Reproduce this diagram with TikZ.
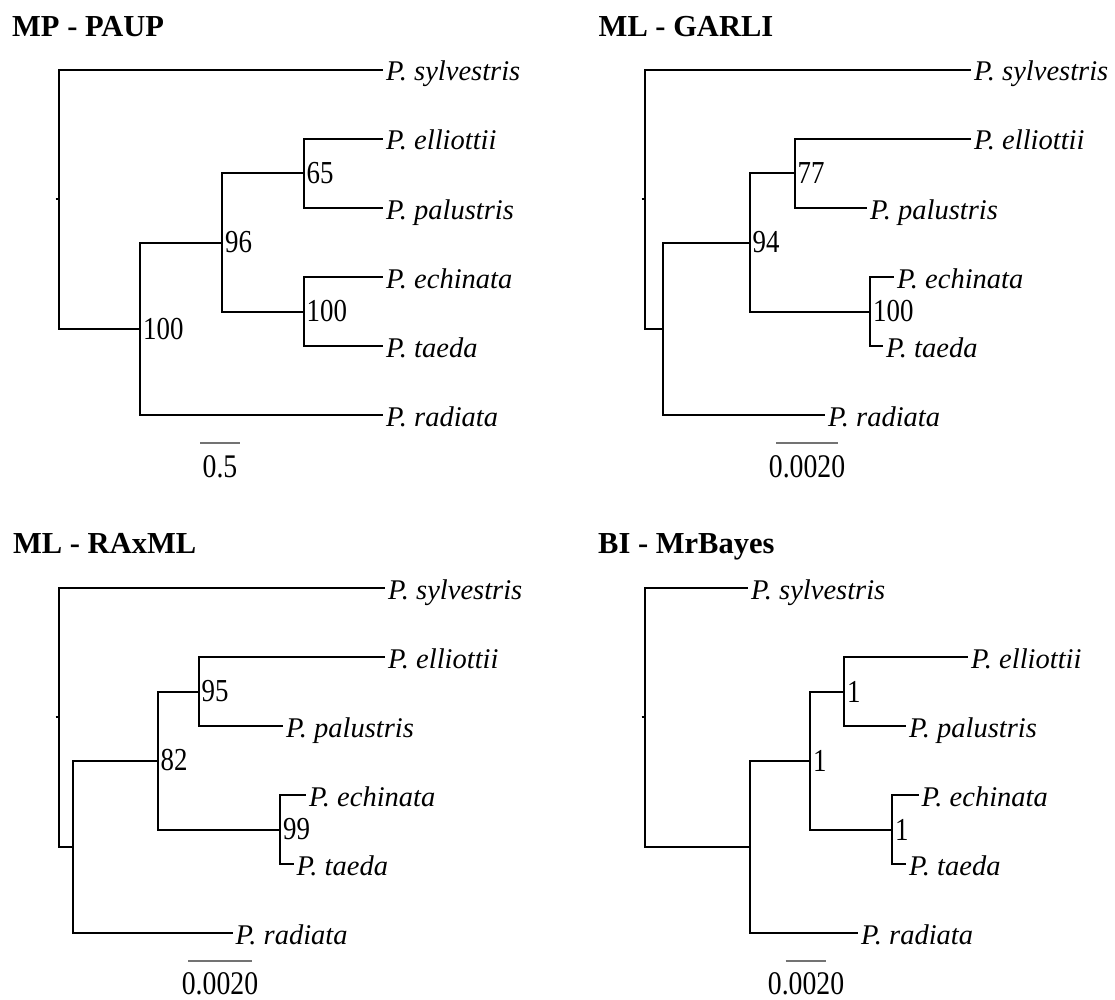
\documentclass[tikz,border=0pt]{standalone}
\usepackage{fontspec}
\setmainfont{Liberation Serif}
\newfontfamily\numfont{Liberation Serif}[FakeStretch=0.84]
\usepackage{tikz}
\usetikzlibrary{positioning}
\tikzstyle{branch} = [line width=2pt]
\tikzstyle{scalebar} = [line width=1.3pt, draw=black!55]

\begin{document}
\begin{tikzpicture}[x=1pt, y=-1pt]
\tikzset{%
	taxon/.style = {anchor=west, inner sep=0pt, inner xsep=3pt, text height=22pt, text depth=0pt, font=\fontsize{28.5}{34}\selectfont\itshape},
	supp/.style = {anchor=west, inner sep=0pt, inner xsep=3pt, font=\numfont\fontsize{32}{38}\selectfont},
	title/.style = {anchor=base west, inner sep=0pt, font=\fontsize{30.5}{36}\selectfont\bfseries},
	sclab/.style = {anchor=base, inner sep=0pt, font=\numfont\fontsize{33}{38}\selectfont}
}
\useasboundingbox (0,0) rectangle (1115,1000);

% MP - PAUP
\node(mph) [title] at (12,37) {MP - PAUP};
\coordinate(mp0) at (59,199.5);
\coordinate(mpt) at (55.5,199.5);
\coordinate(mp1) at (140,329);
\coordinate(mp2) at (222,242.5);
\coordinate(mp3) at (303.5,173.5);
\coordinate(mp4) at (303.5,311.5);
\node(mpsyl) [taxon] at (383,70) {P. sylvestris};
\node(mpell) [taxon] at (383,139) {P. elliottii};
\node(mppal) [taxon] at (383,208) {P. palustris};
\node(mpech) [taxon] at (383,277) {P. echinata};
\node(mptae) [taxon] at (383,346) {P. taeda};
\node(mprad) [taxon] at (383,415) {P. radiata};
\node(mp1l) [supp] at (mp1) {100};
\node(mp2l) [supp] at (mp2) {96};
\node(mp3l) [supp] at (mp3) {65};
\node(mp4l) [supp] at (mp4) {100};
\draw[branch] (mpt) -- (mp0);
\draw[branch] (mp0) |- (mpsyl.west);
\draw[branch] (mp0) |- (mp1);
\draw[branch] (mp1) |- (mp2);
\draw[branch] (mp1) |- (mprad.west);
\draw[branch] (mp2) |- (mp3);
\draw[branch] (mp2) |- (mp4);
\draw[branch] (mp3) |- (mpell.west);
\draw[branch] (mp3) |- (mppal.west);
\draw[branch] (mp4) |- (mpech.west);
\draw[branch] (mp4) |- (mptae.west);
\coordinate(mpb1) at (200,443);
\coordinate(mpb2) at (240,443);
\draw[scalebar] (mpb1) -- (mpb2);
\node(mpsc) [sclab] at (220,477) {0.5};

% ML - GARLI
\node(gah) [title] at (598.5,37) {ML - GARLI};
\coordinate(ga0) at (645,199.5);
\coordinate(gat) at (641.5,199.5);
\coordinate(ga1) at (663,329);
\coordinate(ga2) at (749.5,242.5);
\coordinate(ga3) at (794.5,173.5);
\coordinate(ga4) at (870,311.5);
\node(gasyl) [taxon] at (971,70) {P. sylvestris};
\node(gaell) [taxon] at (971,139) {P. elliottii};
\node(gapal) [taxon] at (867,208) {P. palustris};
\node(gaech) [taxon] at (894,277) {P. echinata};
\node(gatae) [taxon] at (883,346) {P. taeda};
\node(garad) [taxon] at (825,415) {P. radiata};
\node(ga2l) [supp] at (ga2) {94};
\node(ga3l) [supp] at (ga3) {77};
\node(ga4l) [supp] at (ga4) {100};
\draw[branch] (gat) -- (ga0);
\draw[branch] (ga0) |- (gasyl.west);
\draw[branch] (ga0) |- (ga1);
\draw[branch] (ga1) |- (ga2);
\draw[branch] (ga1) |- (garad.west);
\draw[branch] (ga2) |- (ga3);
\draw[branch] (ga2) |- (ga4);
\draw[branch] (ga3) |- (gaell.west);
\draw[branch] (ga3) |- (gapal.west);
\draw[branch] (ga4) |- (gaech.west);
\draw[branch] (ga4) |- (gatae.west);
\coordinate(gab1) at (776,443);
\coordinate(gab2) at (838,443);
\draw[scalebar] (gab1) -- (gab2);
\node(gasc) [sclab] at (807,477) {0.0020};

% ML - RAxML
\node(rxh) [title] at (13,553) {ML - RAxML};
\coordinate(rx0) at (59,717.4);
\coordinate(rxt) at (55.5,717.4);
\coordinate(rx1) at (73,846.75);
\coordinate(rx2) at (157.5,760.5);
\coordinate(rx3) at (198.5,691.5);
\coordinate(rx4) at (280,829.5);
\node(rxsyl) [taxon] at (385,588) {P. sylvestris};
\node(rxell) [taxon] at (385,657) {P. elliottii};
\node(rxpal) [taxon] at (283,726) {P. palustris};
\node(rxech) [taxon] at (306,795) {P. echinata};
\node(rxtae) [taxon] at (293.5,864) {P. taeda};
\node(rxrad) [taxon] at (232.5,933) {P. radiata};
\node(rx2l) [supp] at (rx2) {82};
\node(rx3l) [supp] at (rx3) {95};
\node(rx4l) [supp] at (rx4) {99};
\draw[branch] (rxt) -- (rx0);
\draw[branch] (rx0) |- (rxsyl.west);
\draw[branch] (rx0) |- (rx1);
\draw[branch] (rx1) |- (rx2);
\draw[branch] (rx1) |- (rxrad.west);
\draw[branch] (rx2) |- (rx3);
\draw[branch] (rx2) |- (rx4);
\draw[branch] (rx3) |- (rxell.west);
\draw[branch] (rx3) |- (rxpal.west);
\draw[branch] (rx4) |- (rxech.west);
\draw[branch] (rx4) |- (rxtae.west);
\coordinate(rxb1) at (188,961);
\coordinate(rxb2) at (252,961);
\draw[scalebar] (rxb1) -- (rxb2);
\node(rxsc) [sclab] at (220,994) {0.0020};

% BI - MrBayes
\node(mbh) [title] at (598,553) {BI - MrBayes};
\coordinate(mb0) at (645,717.4);
\coordinate(mbt) at (641.5,717.4);
\coordinate(mb1) at (750,846.75);
\coordinate(mb2) at (810,760.5);
\coordinate(mb3) at (844,691.5);
\coordinate(mb4) at (892,829.5);
\node(mbsyl) [taxon] at (748,588) {P. sylvestris};
\node(mbell) [taxon] at (968,657) {P. elliottii};
\node(mbpal) [taxon] at (906,726) {P. palustris};
\node(mbech) [taxon] at (918.5,795) {P. echinata};
\node(mbtae) [taxon] at (906,864) {P. taeda};
\node(mbrad) [taxon] at (858,933) {P. radiata};
\node(mb2l) [supp] at (mb2) {1};
\node(mb3l) [supp] at (mb3) {1};
\node(mb4l) [supp] at (mb4) {1};
\draw[branch] (mbt) -- (mb0);
\draw[branch] (mb0) |- (mbsyl.west);
\draw[branch] (mb0) |- (mb1);
\draw[branch] (mb1) |- (mb2);
\draw[branch] (mb1) |- (mbrad.west);
\draw[branch] (mb2) |- (mb3);
\draw[branch] (mb2) |- (mb4);
\draw[branch] (mb3) |- (mbell.west);
\draw[branch] (mb3) |- (mbpal.west);
\draw[branch] (mb4) |- (mbech.west);
\draw[branch] (mb4) |- (mbtae.west);
\coordinate(mbb1) at (785.5,961);
\coordinate(mbb2) at (826,961);
\draw[scalebar] (mbb1) -- (mbb2);
\node(mbsc) [sclab] at (806,994) {0.0020};
\end{tikzpicture}
\end{document}
